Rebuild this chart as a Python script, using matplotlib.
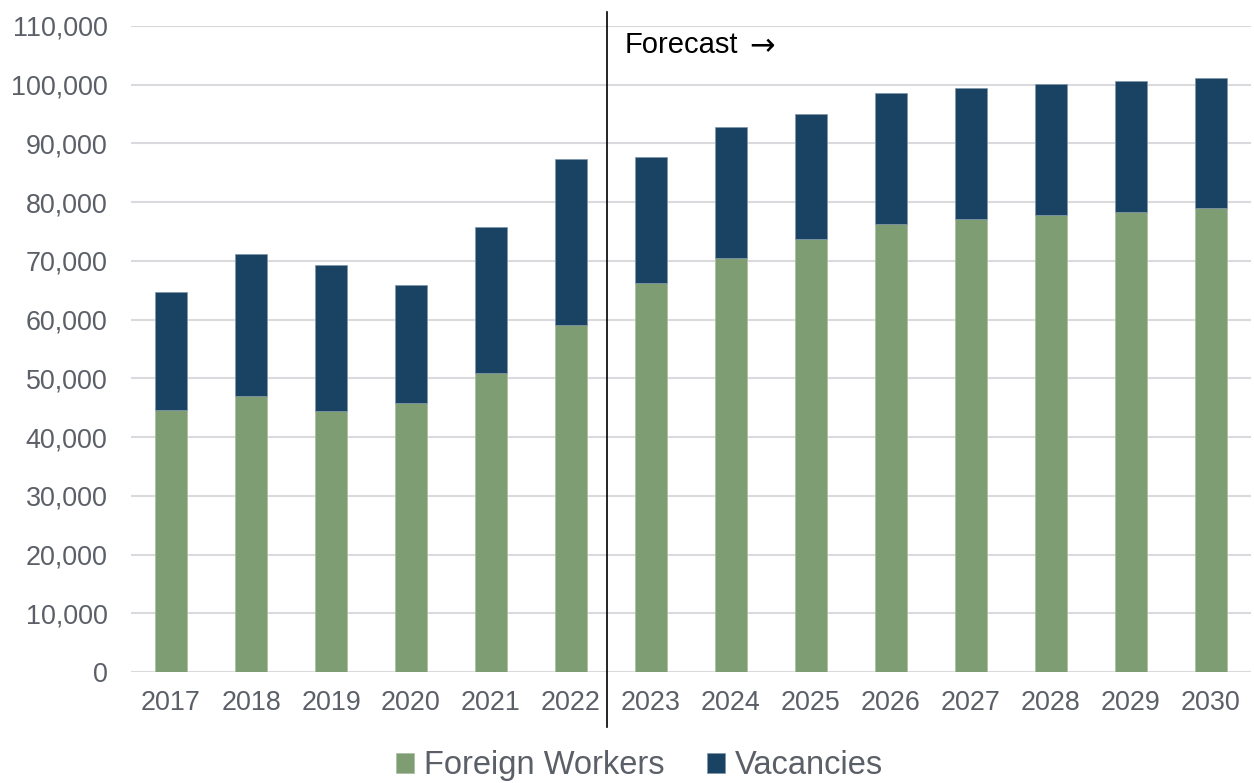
import matplotlib
matplotlib.use("Agg")
import matplotlib.pyplot as plt
from matplotlib.ticker import FuncFormatter
import numpy as np

years = ["2017", "2018", "2019", "2020", "2021", "2022", "2023",
         "2024", "2025", "2026", "2027", "2028", "2029", "2030"]
foreign_workers = [44600, 47050, 44450, 45800, 50900, 59050, 66200,
                   70500, 73800, 76300, 77100, 77750, 78300, 79000]
totals = [64750, 71150, 69250, 65850, 75700, 87300, 87750,
          92800, 94950, 98600, 99400, 100050, 100580, 101100]
vacancies = [t - f for t, f in zip(totals, foreign_workers)]

GREEN = "#7F9D73"
NAVY = "#1A4363"
GRAY_TEXT = "#5B5F67"
GRID = "#D9D9DE"

plt.rcParams['font.family'] = ['Liberation Sans', 'DejaVu Sans']

fig = plt.figure(figsize=(12.54, 7.83), dpi=100)
ax = fig.add_axes([0.1045, 0.1418, 0.893, 0.825])

x = np.arange(len(years))
w = 0.4
ax.bar(x, foreign_workers, w, color=GREEN, edgecolor="#A9BDA0", linewidth=0.5,
       label="Foreign Workers", zorder=3)
ax.bar(x, vacancies, w, bottom=foreign_workers, color=NAVY, edgecolor="#7F97AA",
       linewidth=0.5, label="Vacancies", zorder=3)

ax.set_xlim(-0.5, len(years) - 0.5)
ax.set_ylim(0, 110000)
ax.set_yticks(np.arange(0, 110001, 10000))
ax.yaxis.set_major_formatter(FuncFormatter(lambda v, p: f"{int(v):,}"))
ax.set_xticks(x)
ax.set_xticklabels(years)
ax.grid(axis="y", color=GRID, linewidth=1.5, zorder=0)
ax.set_axisbelow(True)
for s in ax.spines.values():
    s.set_visible(False)
ax.tick_params(axis="both", length=0, labelsize=19.4, colors=GRAY_TEXT)
ax.tick_params(axis="x", pad=13)
ax.tick_params(axis="y", pad=17)

ax.axvline(5.45, ymin=-0.085, ymax=1.022, clip_on=False, color="black",
           linewidth=1.2, zorder=4)
ax.text(5.67, 106800, "Forecast", fontsize=21, color="black",
        va="center", ha="left")
ax.text(7.23, 106500, "→", fontsize=22, color="black", va="center",
        ha="left", family="DejaVu Sans")

fig.legend(loc="center", bbox_to_anchor=(0.51, 0.022), ncol=2, frameon=False,
           fontsize=23.5, labelcolor=GRAY_TEXT, handlelength=0.55,
           handleheight=0.55, handletextpad=0.3, columnspacing=1.3)

fig.savefig("out.png", dpi=100)
